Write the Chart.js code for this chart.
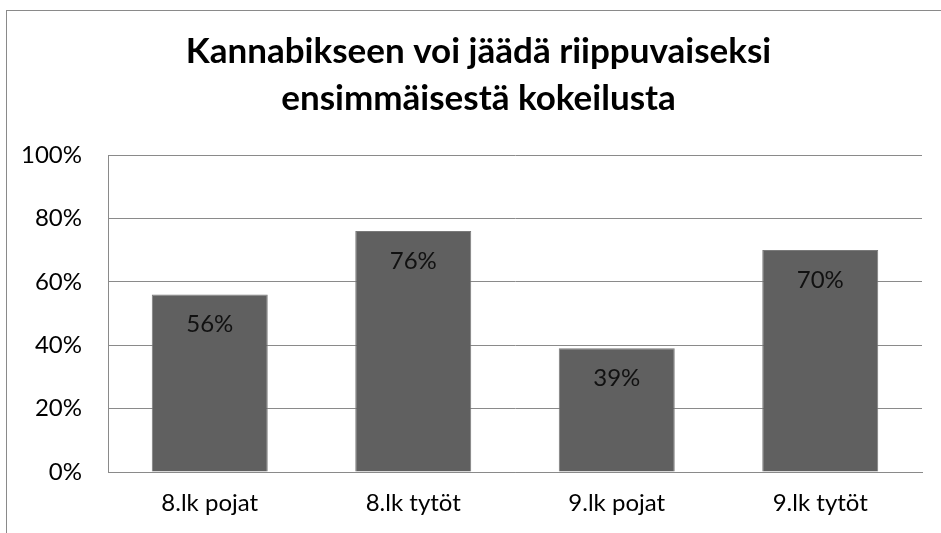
<!DOCTYPE html>
<html>
<head>
<meta charset="utf-8">
<script src="https://cdn.jsdelivr.net/npm/chart.js@4"></script>
<style>
html,body{margin:0;padding:0;background:#fff;overflow:hidden;}
#wrap{position:relative;width:941px;height:533px;}
</style>
</head>
<body>
<div id="wrap"><canvas id="c" width="941" height="533"></canvas></div>
<script>
const titleLines = ['Kannabikseen voi jäädä riippuvaiseksi', 'ensimmäisestä kokeilusta'];
const categories = ['8.lk pojat', '8.lk tytöt', '9.lk pojat', '9.lk tytöt'];
const values = [56, 76, 39, 70];
const yTicks = [0, 20, 40, 60, 80, 100];

const FONT = 'Lato, Calibri, Carlito, "Open Sans", sans-serif';

const frame = {
  id: 'frame',
  beforeDraw(chart) {
    const ctx = chart.ctx;
    ctx.save();
    ctx.fillStyle = '#ffffff';
    ctx.fillRect(0, 0, chart.width, chart.height);
    ctx.strokeStyle = '#8a8a8a';
    ctx.lineWidth = 1;
    ctx.strokeRect(6.5, 10.5, 1200, 1200);
    ctx.restore();
  }
};

const barLabels = {
  id: 'barLabels',
  afterDatasetsDraw(chart) {
    const ctx = chart.ctx;
    const meta = chart.getDatasetMeta(0);
    ctx.save();
    ctx.font = '24px ' + FONT;
    ctx.fillStyle = '#111111';
    ctx.textAlign = 'center';
    ctx.textBaseline = 'alphabetic';
    meta.data.forEach((bar, i) => {
      ctx.fillText(values[i] + '%', bar.x, bar.y + 37.5);
    });
    ctx.restore();
  }
};

new Chart(document.getElementById('c'), {
  type: 'bar',
  data: {
    labels: categories,
    datasets: [{
      data: values,
      backgroundColor: '#606060',
      borderColor: '#7a7a7a',
      borderWidth: 1,
      barPercentage: 0.57,
      categoryPercentage: 1.0
    }]
  },
  options: {
    responsive: false,
    animation: false,
    events: [],
    layout: { padding: { left: 20, right: 4, top: 0, bottom: 0 }, autoPadding: false },
    plugins: {
      legend: { display: false },
      tooltip: { enabled: false },
      title: {
        display: true,
        text: titleLines,
        color: '#000000',
        font: { family: FONT, size: 35, weight: 'bold', lineHeight: '47px' },
        padding: { top: 28, bottom: 33 }
      }
    },
    scales: {
      x: {
        grid: { display: false, drawTicks: false },
        border: { display: true, color: '#8a8a8a', width: 1 },
        ticks: { color: '#000000', font: { family: FONT, size: 24 }, padding: 17, maxRotation: 0 },
        afterFit(scale) { scale.height = 61; }
      },
      y: {
        min: 0,
        max: 100,
        afterBuildTicks(scale) { scale.ticks = yTicks.map(v => ({ value: v })); },
        grid: { color: '#8a8a8a', lineWidth: 1, drawTicks: false },
        border: { display: true, color: '#8a8a8a', width: 1 },
        ticks: { color: '#000000', font: { family: FONT, size: 24 }, padding: 26, callback: v => v + '%' },
        afterFit(scale) { scale.width = 88; }
      },
      yRight: {
        position: 'right',
        min: 0,
        max: 100,
        grid: { display: false, drawTicks: false },
        border: { display: false },
        ticks: { display: false },
        afterFit(scale) { scale.width = 15; }
      }
    }
  },
  plugins: [frame, barLabels]
});
</script>
</body>
</html>
